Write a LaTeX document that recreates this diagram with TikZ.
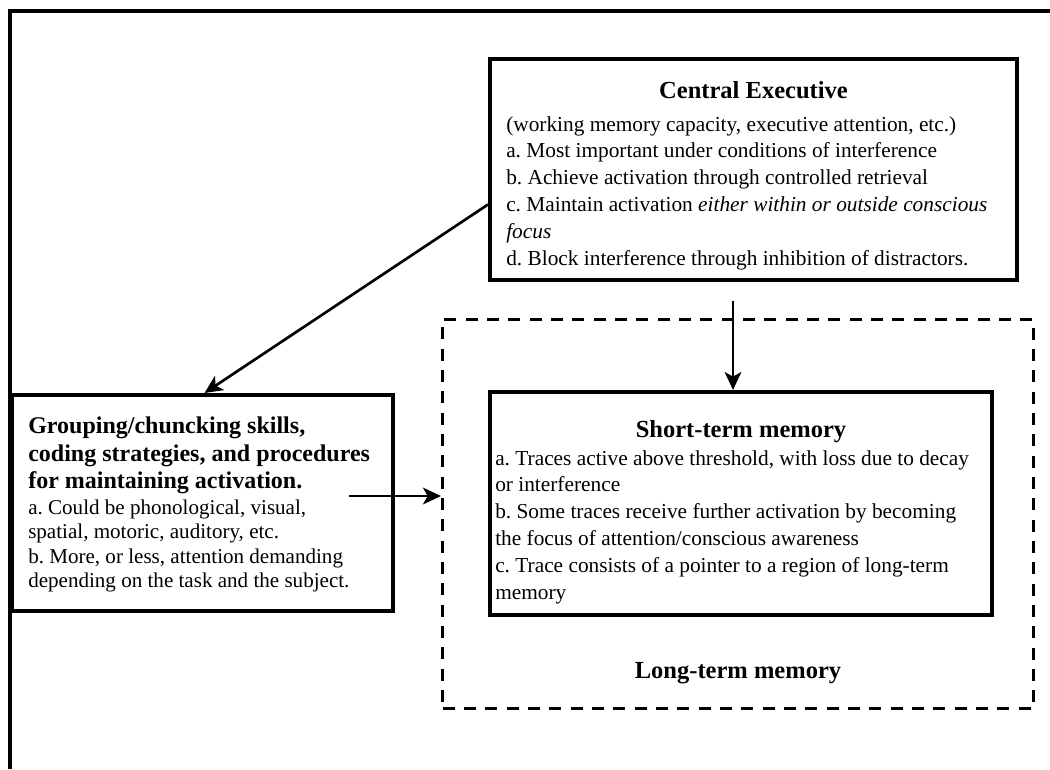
\documentclass[tikz,border=0pt]{standalone}
\usepackage{fontspec}
\setmainfont{Liberation Serif}
\frenchspacing
\usetikzlibrary{positioning,calc,arrows.meta}
\tikzset{
  wm box/.style={rectangle, draw, line width=3pt, inner sep=0pt, anchor=north west},
  wm dashbox/.style={rectangle, draw, line width=2.25pt, dash pattern=on 9pt off 7pt, inner sep=0pt, anchor=north west},
  wm head/.style={font=\fontsize{18.4}{22}\selectfont\bfseries, inner sep=0pt, anchor=base},
  wm text/.style={font=\fontsize{16}{20.1}\selectfont, inner sep=0pt, anchor=north west, align=left},
  wm arrow/.style={line width=2pt, -{Stealth[length=13.5pt, width=12.5pt, inset=3.5pt]}}
}
\begin{document}
\begin{tikzpicture}[x=0.75pt, y=-0.75pt]
    \useasboundingbox (0,0) rectangle (1050,769);
    % Outer frame (cut at the page edge)
    \draw [line width=3pt] (10,769) -- (10,11) -- (1050,11);

    % Boxes
    \node [wm box, minimum width=395.25pt, minimum height=165.75pt] (ce) at (488,57) {};
    \node [wm dashbox, minimum width=443.25pt, minimum height=291.75pt] (ltm) at (441,318) {};
    \node [wm box, minimum width=376.5pt, minimum height=167.25pt] (stm) at (488,390) {};
    \node [wm box, minimum width=285.75pt, minimum height=162pt] (group) at (10,393) {};

    % Central executive text
    \node [wm head] (cehead) at ([yshift=-30.75pt]ce.north) {Central Executive};
    \node [wm text] (cetext) at ([shift={(13.5pt,-44.25pt)}]ce.north west)
      {(working memory capacity, executive attention, etc.)\\
       a. Most important under conditions of interference\\
       b. Achieve activation through controlled retrieval\\
       c. Maintain activation \textit{either within or outside conscious}\\
       \textit{focus}\\
       d. Block interference through inhibition of distractors.};

    % Short-term memory text
    \node [wm head] (stmhead) at ([yshift=-35.25pt]stm.north) {Short-term memory};
    \node [wm text] (stmtext) at ([shift={(5.25pt,-45pt)}]stm.north west)
      {a. Traces active above threshold, with loss due to decay\\
       or interference\\
       b. Some traces receive further activation by becoming\\
       the focus of attention/conscious awareness\\
       c. Trace consists of a pointer to a region of long-term\\
       memory};

    % Grouping text
    \node [wm text, font=\fontsize{18}{20.6}\selectfont\bfseries] (grouphead)
      at ([shift={(13.5pt,-18pt)}]group.north west)
      {Grouping/chuncking skills,\\
       coding strategies, and procedures\\
       for maintaining activation.};
    \node [wm text, font=\fontsize{15.8}{18.3}\selectfont] (grouptext)
      at ([shift={(13.5pt,-80pt)}]group.north west)
      {a. Could be phonological, visual,\\
       spatial, motoric, auditory, etc.\\
       b. More, or less, attention demanding\\
       depending on the task and the subject.};

    % Long-term memory label
    \node [wm head] (ltmhead) at ([yshift=23.5pt]ltm.south) {Long-term memory};

    % Connectors
    \coordinate (grpout) at ([shift={(-34.5pt,5.25pt)}]group.east);
    \coordinate (cedown) at ([shift={(-6pt,-14.25pt)}]stm.north |- ce.south);
    \draw [wm arrow] ([yshift=-26.25pt]ce.west) -- ([xshift=1.5pt]group.north);
    \draw [wm arrow] (cedown) -- (cedown |- stm.north);
    \draw [wm arrow] (grpout) -- (grpout -| ltm.west);
\end{tikzpicture}
\end{document}
